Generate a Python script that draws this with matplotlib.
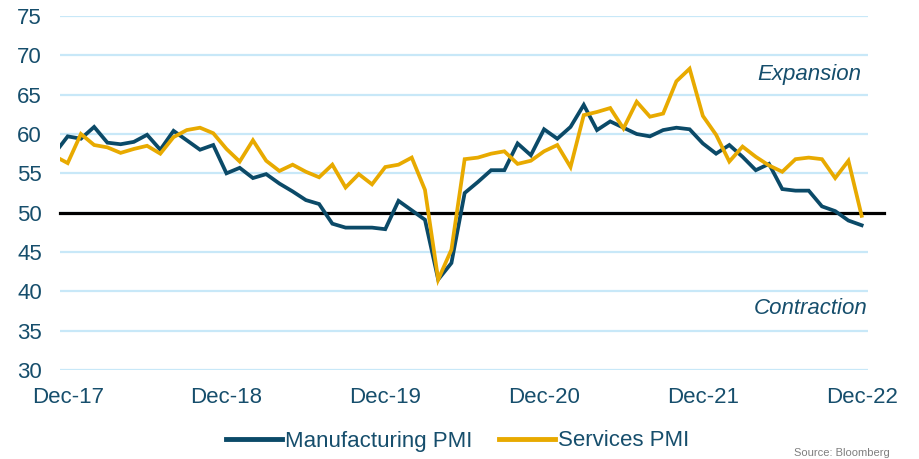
import matplotlib
matplotlib.use("Agg")
import matplotlib.pyplot as plt
import numpy as np

plt.rcParams['font.family'] = ['Liberation Sans', 'DejaVu Sans']

# Month index: Dec-17 = 0 ; first value is Nov-17 (index -1)
month_idx = list(range(-1, 61))
tick_pos = [0, 12, 24, 36, 48, 60]
tick_labels = ['Dec-17', 'Dec-18', 'Dec-19', 'Dec-20', 'Dec-21', 'Dec-22']

manufacturing = [57.5,
    59.7, 59.4, 60.9, 58.9, 58.7, 59.0, 59.9, 58.0, 60.4, 59.2, 58.0, 58.6,
    55.0, 55.7, 54.4, 54.9, 53.7, 52.7, 51.6, 51.1, 48.6, 48.1, 48.1, 48.1,
    47.9, 51.5, 50.3, 49.1, 41.5, 43.6, 52.5, 53.9, 55.4, 55.4, 58.8, 57.3,
    60.6, 59.4, 60.9, 63.7, 60.5, 61.6, 60.8, 60.0, 59.7, 60.5, 60.8, 60.6,
    58.8, 57.5, 58.6, 57.1, 55.4, 56.2, 53.0, 52.8, 52.8, 50.8, 50.2, 49.0,
    48.4]
services = [57.2,
    56.3, 60.0, 58.6, 58.3, 57.6, 58.1, 58.5, 57.5, 59.6, 60.5, 60.8, 60.1,
    58.1, 56.5, 59.2, 56.6, 55.3, 56.1, 55.2, 54.5, 56.1, 53.2, 54.9, 53.6,
    55.8, 56.1, 57.0, 52.9, 41.5, 45.3, 56.8, 57.0, 57.5, 57.8, 56.2, 56.6,
    57.8, 58.6, 55.8, 62.4, 62.8, 63.3, 60.7, 64.1, 62.2, 62.6, 66.7, 68.3,
    62.3, 59.9, 56.5, 58.4, 57.1, 56.0, 55.2, 56.8, 57.0, 56.8, 54.4, 56.6,
    49.6]

y_ticks = [30, 35, 40, 45, 50, 55, 60, 65, 70, 75]

text_col = '#164E6C'
blue = '#0B4A68'
gold = '#E8AA00'
grid_col = '#C8E8F8'

fig = plt.figure(figsize=(9.19, 4.59), dpi=100)
ax = fig.add_axes([60/919, 1-370/459, 808/919, 354/459])

x0, x1 = -0.58, 60.48
ax.set_xlim(x0, x1)
ax.set_ylim(30, 75)

for yv in y_ticks:
    ax.axhline(yv, color=grid_col, lw=1.6, zorder=1)

ax.plot([x0, 61.7], [50, 50], color='black', lw=2.3, zorder=2, clip_on=False)

ax.plot(month_idx, manufacturing, color=blue, lw=2.7, label='Manufacturing PMI',
        zorder=3, solid_joinstyle='miter')
ax.plot(month_idx, services, color=gold, lw=2.7, label='Services PMI',
        zorder=4, solid_joinstyle='miter')

for s in ax.spines.values():
    s.set_visible(False)

ax.set_yticks(y_ticks)
ax.set_xticks(tick_pos)
ax.set_xticklabels(tick_labels)
ax.tick_params(axis='both', length=0, labelsize=16, labelcolor=text_col)
ax.tick_params(axis='y', pad=13)
ax.tick_params(axis='x', pad=12.5)

ax.text(60.0, 67.6, 'Expansion', style='italic', fontsize=16, color=text_col,
        ha='right', va='center')
ax.text(60.45, 37.8, 'Contraction', style='italic', fontsize=16, color=text_col,
        ha='right', va='center')

leg = fig.legend(loc='center', bbox_to_anchor=(458/919, 1-441/459), ncol=2,
                 frameon=False, fontsize=16, handlelength=2.5, handletextpad=0.15,
                 columnspacing=1.2, labelcolor=text_col)
for h in leg.get_lines():
    h.set_linewidth(3.5)

fig.text(890/919, 1/459, 'Source: Bloomberg', fontsize=8, color='#7F7F7F',
         ha='right', va='bottom')

fig.savefig('out.png', dpi=100)
